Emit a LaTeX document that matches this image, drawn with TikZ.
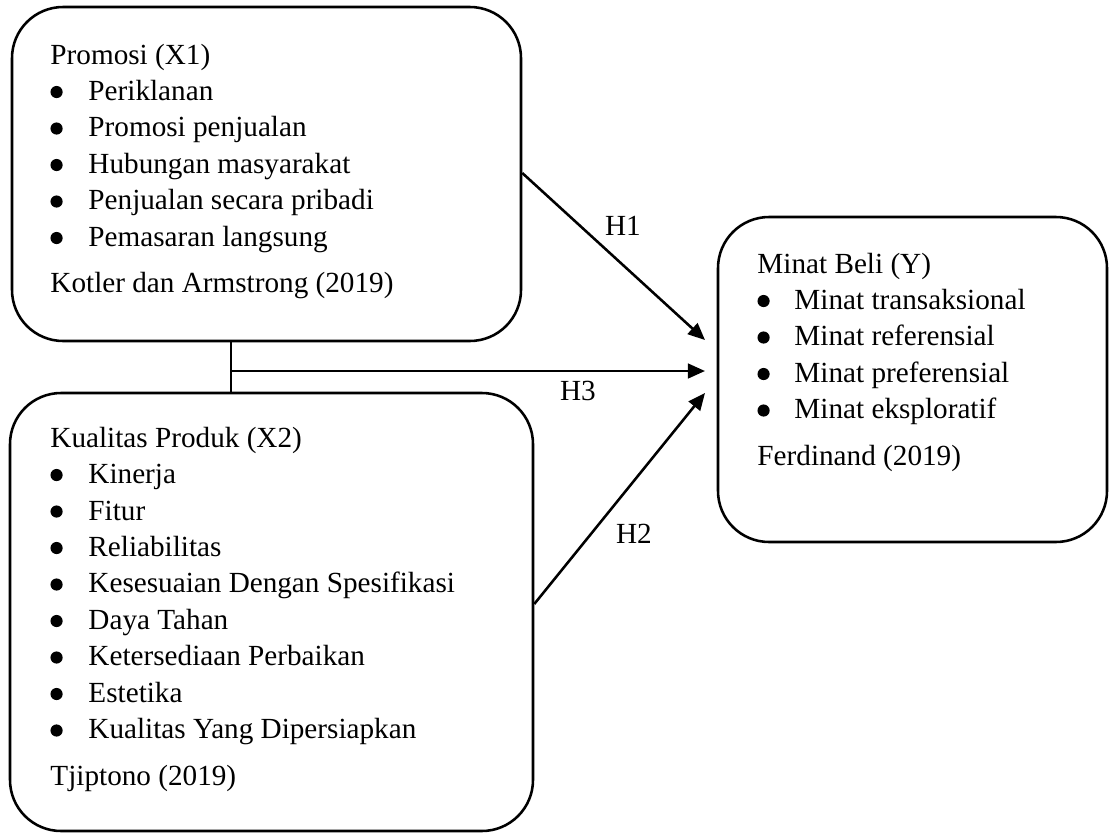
\documentclass[tikz,border=0pt]{standalone}
\usepackage{fontspec}
\setmainfont{Liberation Serif}
\usetikzlibrary{arrows.meta}
\newlength\pxu \setlength\pxu{0.411pt}
\newcommand\bdot{\tikz[baseline=-0.29em]\fill (0,0) circle (2.5pt);}
\newcommand\bitem[2][38]{\makebox[#1\pxu][l]{\bdot}#2}
\begin{document}
\begin{tikzpicture}[x=\pxu,y=-\pxu,
  box/.style={draw, line width=1.05pt, rounded corners=21pt, inner sep=0pt},
  txt/.style={anchor=base west, inner sep=0pt, font=\fontsize{12pt}{15pt}\selectfont},
  lbl/.style={inner sep=0pt, font=\fontsize{12pt}{14pt}\selectfont},
  conn/.style={line width=1.05pt},
  arr/.style={conn, -{Triangle[length=7pt,width=6pt]}}]
\useasboundingbox (0,0) rectangle (1109,833);
% boxes
\node[box, minimum width=509\pxu, minimum height=334\pxu] (b1) at (266.5,174) {};
\node[box, minimum width=523\pxu, minimum height=438\pxu] (b2) at (271.5,612) {};
\node[box, minimum width=389\pxu, minimum height=325\pxu] (b3) at (912.5,379.5) {};
% texts
\node[txt] (t1) at (50,64) {\begin{tabular}[t]{@{}l@{}}Promosi (X1)\\
  \bitem{Periklanan}\\
  \bitem{Promosi penjualan}\\
  \bitem{Hubungan masyarakat}\\
  \bitem{Penjualan secara pribadi}\\
  \bitem{Pemasaran langsung}\\[10\pxu]
  Kotler dan Armstrong (2019)\end{tabular}};
\node[txt] (t2) at (50,447) {\begin{tabular}[t]{@{}l@{}}Kualitas Produk (X2)\\
  \bitem{Kinerja}\\
  \bitem{Fitur}\\
  \bitem{Reliabilitas}\\
  \bitem{Kesesuaian Dengan Spesifikasi}\\
  \bitem{Daya Tahan}\\
  \bitem{Ketersediaan Perbaikan}\\
  \bitem{Estetika}\\
  \bitem{Kualitas Yang Dipersiapkan}\\[10\pxu]
  Tjiptono (2019)\end{tabular}};
\node[txt] (t3) at (757,273) {\begin{tabular}[t]{@{}l@{}}Minat Beli (Y)\\
  \bitem[37]{Minat transaksional}\\
  \bitem[37]{Minat referensial}\\
  \bitem[37]{Minat preferensial}\\
  \bitem[37]{Minat eksploratif}\\[10\pxu]
  Ferdinand (2019)\end{tabular}};
% connectors
\coordinate (e1) at (705,340);
\coordinate (e3) at (705,371);
\coordinate (e2) at (705,393);
\coordinate (v) at (231,371);
\draw[arr] (b1.east |- 0,173) -- (e1);
\draw[conn] (b1.south -| v) -- (b2.north -| v);
\draw[arr] (v) -- (e3);
\draw[arr] (b2.east |- 0,604) -- (e2);
% labels
\node[lbl] (h1) at (623,226) {H1};
\node[lbl] (h3) at (578,391) {H3};
\node[lbl] (h2) at (634,534) {H2};
\end{tikzpicture}
\end{document}
